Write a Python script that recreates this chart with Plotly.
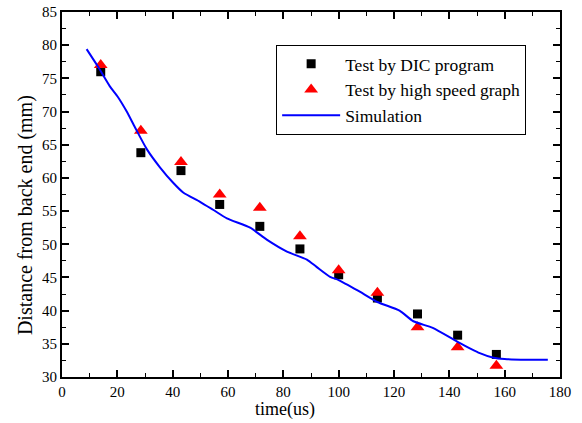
import plotly.graph_objects as go

# Data
time_pts = [14, 28.5, 43, 57, 71.5, 86, 100, 114, 128.5, 143, 157]
dic_vals = [76.0, 63.8, 61.1, 56.0, 52.7, 49.3, 45.4, 41.9, 39.5, 36.3, 33.4]
hs_vals = [77.0, 67.1, 62.4, 57.5, 55.5, 51.2, 46.1, 42.7, 37.5, 34.5, 31.7]

sim_t = [8.9, 13.1, 17.3, 20.2, 23.4, 26.4, 30.7, 35.4, 40.1, 43.8, 49.9, 54.6,
         59.6, 68, 74, 81.3, 88.5, 92, 96.9, 100, 107, 114, 122, 127, 134, 143,
         151, 156, 160, 168, 175.6]
sim_y = [79.4, 76.7, 73.8, 72.2, 70.0, 67.6, 64.3, 61.6, 59.3, 57.8, 56.4, 55.2,
         53.9, 52.5, 50.7, 48.9, 47.7, 46.6, 45.1, 44.6, 43.0, 41.3, 40.0, 38.4, 37.4, 35.3,
         33.6, 32.9, 32.7, 32.6, 32.6]

x_ticks = [0, 20, 40, 60, 80, 100, 120, 140, 160, 180]
y_ticks = [30, 35, 40, 45, 50, 55, 60, 65, 70, 75, 80, 85]

x_title = "time(us)"
y_title = "Distance from back end (mm)"

FONT = "Liberation Serif"

fig = go.Figure()
fig.add_trace(go.Scatter(x=time_pts, y=dic_vals, mode="markers", name="Test by DIC program",
                         marker=dict(symbol="square", size=9, color="black")))
fig.add_trace(go.Scatter(x=time_pts, y=hs_vals, mode="markers", name="Test by high speed graph",
                         marker=dict(symbol="triangle-up", size=12, color="red")))
fig.add_trace(go.Scatter(x=sim_t, y=sim_y, mode="lines", name="Simulation",
                         line=dict(color="blue", width=2, shape="spline", smoothing=0.6)))

axis_common = dict(
    showline=True, linecolor="black", linewidth=2, mirror="ticks",
    ticks="inside", ticklen=7, tickwidth=1.5, tickcolor="black",
    showgrid=False, zeroline=False, automargin=False,
    tickfont=dict(family=FONT, size=15, color="black"),
)

fig.update_layout(
    width=582, height=423,
    margin=dict(l=62, r=22, t=12, b=46),
    paper_bgcolor="white", plot_bgcolor="white",
    font=dict(family=FONT, size=15, color="black"),
    xaxis=dict(range=[0, 180], tickvals=x_ticks,
               minor=dict(dtick=10, ticks="inside", ticklen=4, tickwidth=1.2, tickcolor="black"),
               **axis_common),
    yaxis=dict(range=[30, 85], tickvals=y_ticks,
               minor=dict(dtick=2.5, ticks="inside", ticklen=4, tickwidth=1.2, tickcolor="black"),
               **axis_common),
    legend=dict(x=0.43, y=0.91, xanchor="left", yanchor="top",
                bordercolor="black", borderwidth=1, bgcolor="white",
                font=dict(family=FONT, size=17.5), itemwidth=58,
                tracegroupgap=0),
    showlegend=True,
    annotations=[
        dict(text=x_title, xref="paper", yref="paper", x=0.448, y=-0.09,
             xanchor="center", yanchor="middle", showarrow=False,
             font=dict(family=FONT, size=18)),
        dict(text=y_title, xref="paper", yref="paper", x=-0.072, y=0.444,
             xanchor="center", yanchor="middle", showarrow=False, textangle=-90,
             font=dict(family=FONT, size=20)),
    ],
)

fig.write_html("out.html", config={"displayModeBar": False},
               post_script="document.body.style.margin='0';")
